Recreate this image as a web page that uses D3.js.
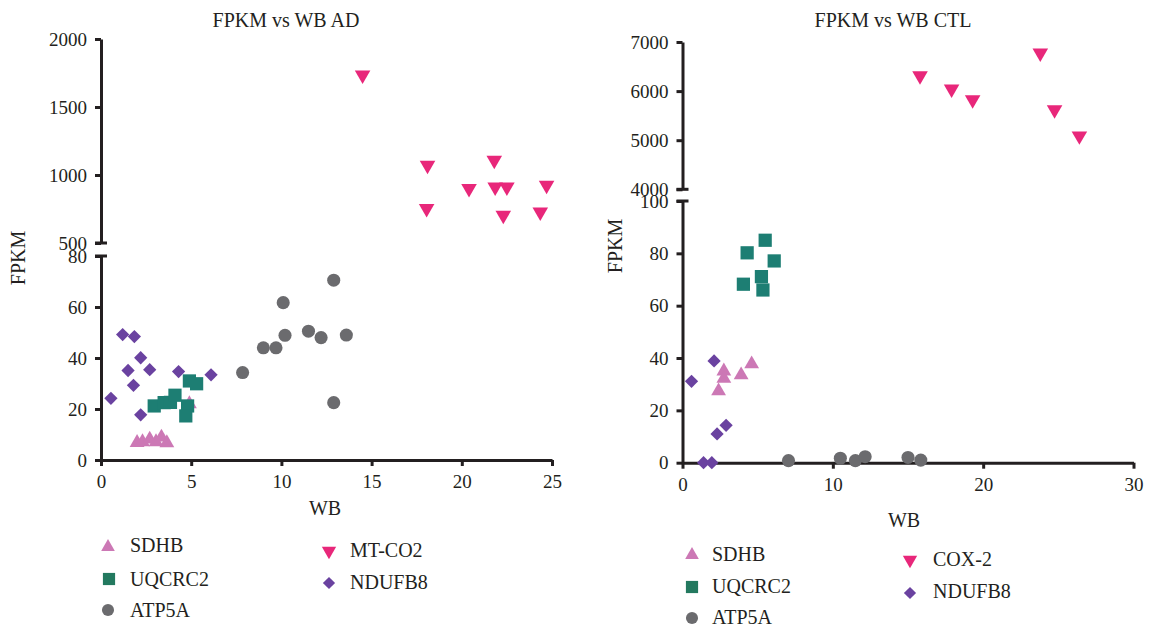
<!DOCTYPE html>
<html>
<head>
<meta charset="utf-8">
<script src="https://cdn.jsdelivr.net/npm/d3@7"></script>
<style>
  body { margin: 0; background: #fff; }
  svg text { font-family: "Liberation Serif", "Times New Roman", serif; fill: #231f20; }
  .axis path, .axis line { stroke: #231f20; stroke-width: 3; }
  .axis text { font-size: 19px; }
</style>
</head>
<body>
<div id="chart"></div>
<script>
const width = 1149, height = 629;

// FPKM vs WB AD  ([WB, FPKM])
const adSdhb = [[2.0, 6.8], [2.3, 7.1], [2.7, 8.1], [3.05, 7.1], [3.35, 8.9], [3.65, 6.7], [4.9, 22]];
const adUqcrc2 = [[2.95, 21.2], [3.5, 22.5], [3.85, 22.6], [4.1, 25.4], [4.9, 31.0], [5.3, 29.9], [4.8, 21.2], [4.7, 17.3]];
const adAtp5a = [[12.9, 70.5], [10.1, 61.7], [9.0, 44.0], [9.7, 44.0], [10.2, 48.9], [11.5, 50.5], [12.2, 48.0], [13.6, 49.0], [7.85, 34.3], [12.9, 22.5]];
const adMtco2 = [[14.5, 1735], [18.1, 1072], [18.05, 753], [20.4, 900], [21.8, 1109], [21.85, 912], [22.5, 912], [22.3, 704], [24.35, 728], [24.7, 925]];
const adNdufb8 = [[1.2, 49.2], [1.85, 48.4], [2.2, 40.1], [1.5, 35.1], [2.7, 35.4], [4.3, 34.7], [6.1, 33.4], [1.8, 29.3], [0.55, 24.2], [2.2, 17.7]];

// FPKM vs WB CTL
const ctlSdhb = [[4.6, 37.7], [3.9, 33.5], [2.75, 35.0], [2.75, 32.2], [2.4, 27.4]];
const ctlUqcrc2 = [[5.5, 85.0], [4.3, 80.2], [6.1, 77.1], [5.25, 71.1], [4.05, 68.2], [5.35, 66.0]];
const ctlAtp5a = [[7.05, 0.8], [10.5, 1.7], [11.5, 0.8], [12.15, 2.3], [15.0, 2.0], [15.85, 1.0]];
const ctlCox2 = [[15.8, 6313], [17.9, 6041], [19.3, 5823], [23.8, 6776], [24.75, 5619], [26.4, 5088]];
const ctlNdufb8 = [[2.1, 38.9], [0.6, 31.1], [2.9, 14.3], [2.3, 11.0], [1.4, 0], [1.95, 0]];

const adXTicks = [0, 5, 10, 15, 20, 25];
const adTopTicks = [500, 1000, 1500, 2000];
const adBottomTicks = [0, 20, 40, 60, 80];
const ctlXTicks = [0, 10, 20, 30];
const ctlTopTicks = [4000, 5000, 6000, 7000];
const ctlBottomTicks = [0, 20, 40, 60, 80, 100];

const colors = {
  sdhb: "#cc78b5", uqcrc2: "#1d7e73", atp5a: "#6b6b6e", cox: "#e8277a", ndufb8: "#6a42a0"
};
const legendColors = {
  sdhb: "#cc78b5", uqcrc2: "#23795f", atp5a: "#6b6b6e", cox: "#e8277a", ndufb8: "#6a42a0"
};

const shapes = {
  sdhb: { type: d3.symbolTriangle, size: 95, rot: 0 },
  uqcrc2: { type: d3.symbolSquare, size: 175, rot: 0 },
  atp5a: { type: d3.symbolCircle, size: 135, rot: 0 },
  cox: { type: d3.symbolTriangle, size: 105, rot: 180 },
  ndufb8: { type: d3.symbolSquare, size: 88, rot: 45 }
};

const fmt = d3.format("d");

const svg = d3.select("#chart").append("svg")
  .attr("width", width)
  .attr("height", height);

function drawPanel(p) {
  var g = svg.append("g");

  var x = d3.scaleLinear().domain(p.xDomain).range(p.xRange);
  var yTop = d3.scaleLinear().domain(p.topDomain).range(p.topRange);
  var yBot = d3.scaleLinear().domain(p.botDomain).range(p.botRange);
  var x0 = p.xRange[0];

  g.append("g")
    .attr("class", "axis")
    .attr("transform", "translate(" + x0 + ",0)")
    .call(d3.axisLeft(yTop).tickValues(p.topTicks).tickFormat(fmt).tickSize(6).tickSizeOuter(0).tickPadding(8));

  g.append("g")
    .attr("class", "axis")
    .attr("transform", "translate(" + x0 + ",0)")
    .call(d3.axisLeft(yBot).tickValues(p.botTicks).tickFormat(fmt).tickSize(6).tickSizeOuter(0).tickPadding(8));

  g.append("g")
    .attr("class", "axis")
    .attr("transform", "translate(0," + p.botRange[0] + ")")
    .call(d3.axisBottom(x).tickValues(p.xTicks).tickFormat(fmt).tickSize(6).tickSizeOuter(0).tickPadding(9));

  g.selectAll(".axis .domain").attr("fill", "none");

  // break caps on the split y axis
  [yTop(p.topDomain[0]), yBot(p.botDomain[1])].forEach(function(yy) {
    g.append("line")
      .attr("x1", x0 - 6).attr("x2", x0 + 6)
      .attr("y1", yy).attr("y2", yy)
      .attr("stroke", "#231f20").attr("stroke-width", 3);
  });

  function plot(data, key, useTop) {
    var sh = shapes[key];
    var sym = d3.symbol().type(sh.type).size(sh.size);
    g.selectAll(null)
      .data(data)
      .enter().append("path")
        .attr("d", sym)
        .attr("fill", colors[key])
        .attr("transform", function(d) {
          var yy = useTop ? yTop(d[1]) : yBot(d[1]);
          return "translate(" + x(d[0]) + "," + yy + ") rotate(" + sh.rot + ")";
        });
  }

  plot(p.series.ndufb8, "ndufb8");
  plot(p.series.atp5a, "atp5a");
  plot(p.series.sdhb, "sdhb");
  plot(p.series.uqcrc2, "uqcrc2");
  plot(p.series.cox, "cox", true);

  g.append("text")
    .attr("x", p.titleX).attr("y", 27)
    .attr("text-anchor", "middle")
    .style("font-size", "20px")
    .text(p.title);

  g.append("text")
    .attr("x", p.xLabel[0]).attr("y", p.xLabel[1])
    .attr("text-anchor", "middle")
    .style("font-size", "20px")
    .text("WB");

  g.append("text")
    .attr("transform", "translate(" + p.yLabel[0] + "," + p.yLabel[1] + ") rotate(-90)")
    .attr("text-anchor", "middle")
    .attr("dy", "0.35em")
    .style("font-size", "20px")
    .text("FPKM");

  // legend
  p.legend.forEach(function(item) {
    var sh = shapes[item.key];
    var sym = d3.symbol().type(sh.type).size(sh.size * 0.85);
    g.append("path")
      .attr("d", sym)
      .attr("fill", legendColors[item.key])
      .attr("transform", "translate(" + item.mx + "," + item.my + ") rotate(" + sh.rot + ")");
    g.append("text")
      .attr("x", item.tx).attr("y", item.ty)
      .attr("dy", "0.35em")
      .style("font-size", "20px")
      .text(item.label);
  });
}

drawPanel({
  title: "FPKM vs WB AD", titleX: 286,
  xDomain: [0, 25], xRange: [101, 552], xTicks: adXTicks,
  topDomain: [500, 2000], topRange: [243, 39], topTicks: adTopTicks,
  botDomain: [0, 80], botRange: [460, 256], botTicks: adBottomTicks,
  xLabel: [325, 515], yLabel: [18, 258],
  series: { sdhb: adSdhb, uqcrc2: adUqcrc2, atp5a: adAtp5a, cox: adMtco2, ndufb8: adNdufb8 },
  legend: [
    { key: "sdhb", label: "SDHB", mx: 108, my: 547, tx: 130, ty: 545 },
    { key: "uqcrc2", label: "UQCRC2", mx: 109, my: 579, tx: 130, ty: 579 },
    { key: "atp5a", label: "ATP5A", mx: 108, my: 610, tx: 130, ty: 610 },
    { key: "cox", label: "MT-CO2", mx: 329, my: 551, tx: 350, ty: 550 },
    { key: "ndufb8", label: "NDUFB8", mx: 329, my: 583, tx: 350, ty: 582 }
  ]
});

drawPanel({
  title: "FPKM vs WB CTL", titleX: 893,
  xDomain: [0, 30], xRange: [682.5, 1133.5], xTicks: ctlXTicks,
  topDomain: [4000, 7000], topRange: [189.3, 42], topTicks: ctlTopTicks,
  botDomain: [0, 100], botRange: [462.7, 201], botTicks: ctlBottomTicks,
  xLabel: [904, 527], yLabel: [615, 246],
  series: { sdhb: ctlSdhb, uqcrc2: ctlUqcrc2, atp5a: ctlAtp5a, cox: ctlCox2, ndufb8: ctlNdufb8 },
  legend: [
    { key: "sdhb", label: "SDHB", mx: 692, my: 555, tx: 712, ty: 554 },
    { key: "uqcrc2", label: "UQCRC2", mx: 692, my: 587, tx: 712, ty: 586 },
    { key: "atp5a", label: "ATP5A", mx: 692, my: 618, tx: 712, ty: 617 },
    { key: "cox", label: "COX-2", mx: 910, my: 560, tx: 933, ty: 559 },
    { key: "ndufb8", label: "NDUFB8", mx: 910, my: 593, tx: 933, ty: 591 }
  ]
});
</script>
</body>
</html>
